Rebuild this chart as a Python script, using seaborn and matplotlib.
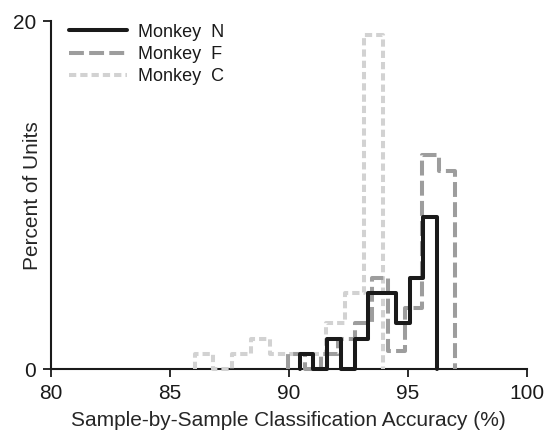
import numpy as np
import pandas as pd
import matplotlib
matplotlib.use("Agg")
import matplotlib.pyplot as plt
import seaborn as sns

# Bin ranges (10 bins per monkey) and percent of units per bin
n_range = (90.45, 96.23)
n_pct = [0.88, 0.0, 1.75, 0.0, 1.75, 4.39, 4.39, 2.63, 5.26, 8.77]

f_range = (89.96, 97.00)
f_pct = [0.88, 0.0, 0.88, 1.75, 2.63, 5.26, 1.05, 3.50, 12.3, 11.4]

c_range = (86.04, 93.94)
c_pct = [0.88, 0.0, 0.88, 1.75, 0.88, 0.88, 0.88, 2.63, 4.39, 19.2]

labels = ["Monkey  N", "Monkey  F", "Monkey  C"]
x_ticks = [80, 85, 90, 95, 100]
y_ticks = [0, 20]

sns.set_theme(style="ticks")
plt.rcParams['font.family'] = ['Liberation Sans', 'DejaVu Sans']

fig = plt.figure(figsize=(5.46, 4.42), dpi=100)
ax = fig.add_axes([0.093, 0.165, 0.872, 0.787])

series = [
    (c_range, c_pct, labels[2], "#d2d2d2", (1.8, 1.0), 1),
    (f_range, f_pct, labels[1], "#9d9d9d", (3.7, 1.3), 2),
    (n_range, n_pct, labels[0], "#1a1a1a", None, 3),
]

handles = {}
for rng, pct, lab, col, dash, z in series:
    edges = [float(e) for e in np.linspace(rng[0], rng[1], len(pct) + 1)]
    centers = [(edges[i] + edges[i + 1]) / 2 for i in range(len(pct))]
    # tiny empty bins at both ends so the outline drops to the baseline
    bins = [edges[0] - 1e-3] + edges + [edges[-1] + 1e-3]
    df = pd.DataFrame({"x": centers, "w": pct})
    kw = dict(color=col, linewidth=2.9, zorder=z, clip_on=False)
    if dash is not None:
        kw["dashes"] = dash
    sns.histplot(data=df, x="x", weights="w", bins=bins, element="step",
                 fill=False, ax=ax, **kw)
    handles[lab] = ax.lines[-1]

ax.set_xlim(80, 100)
ax.set_ylim(0, 20)
ax.set_xticks(x_ticks)
ax.set_yticks(y_ticks)
ax.set_xlabel("Sample-by-Sample Classification Accuracy (%)", fontsize=15, labelpad=6)
ax.set_ylabel("Percent of Units", fontsize=15)
ax.yaxis.set_label_coords(-0.019, 0.5)
ax.tick_params(axis="both", labelsize=15, length=5.5, width=1.3, color="#1a1a1a",
               labelcolor="#1a1a1a", direction="out", pad=5)
for s in ["top", "right"]:
    ax.spines[s].set_visible(False)
for s in ["left", "bottom"]:
    ax.spines[s].set_linewidth(1.5)
    ax.spines[s].set_color("#1a1a1a")
    ax.spines[s].set_zorder(0.5)

leg = ax.legend([handles[l] for l in labels], labels, loc="upper left",
                bbox_to_anchor=(0.005, 1.04), frameon=False, fontsize=13,
                handlelength=3.2, handletextpad=0.6, labelspacing=0.3)
for t in leg.get_texts():
    t.set_color("#1a1a1a")

fig.savefig("out.png", dpi=100)
